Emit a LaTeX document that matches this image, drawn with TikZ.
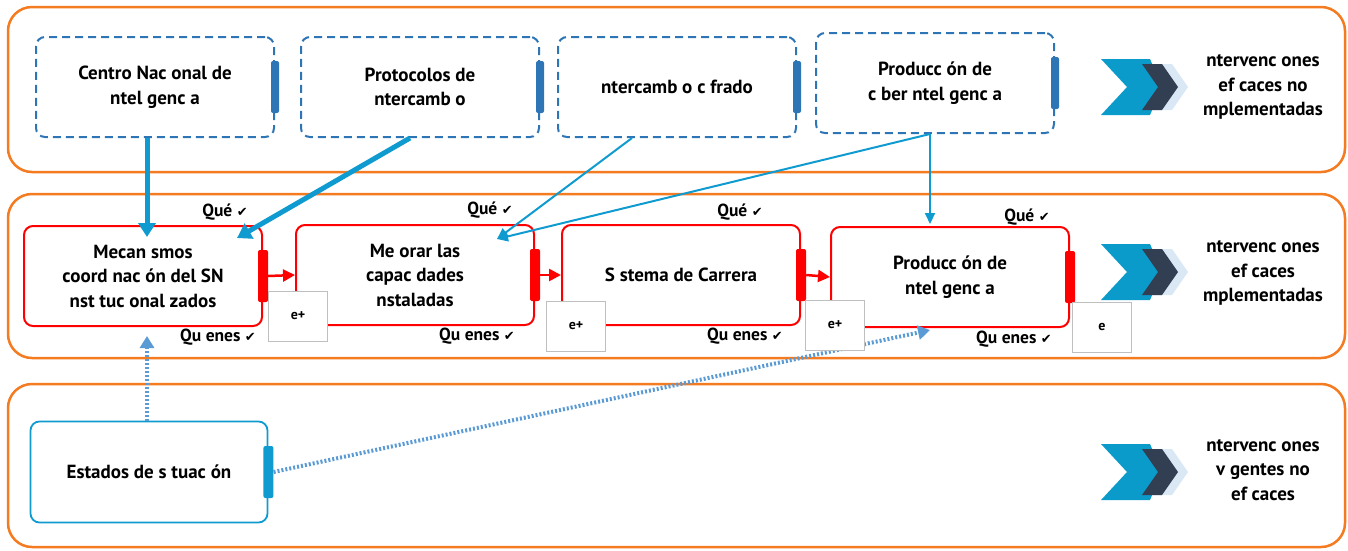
\documentclass[tikz,border=0pt]{standalone}
\usepackage{fontspec}
\setmainfont{PT Sans}
\newfontfamily\symf{DejaVu Sans}
\usetikzlibrary{arrows.meta,calc}
\definecolor{orng}{HTML}{F47B20}
\definecolor{dblue}{HTML}{2E75B6}
\definecolor{cyanl}{HTML}{0F9BD0}
\definecolor{dotblue}{HTML}{5B9BD5}
\definecolor{chev}{HTML}{0A9BCB}
\definecolor{chevd}{HTML}{323F52}
\definecolor{chevl}{HTML}{DAE7F4}
\definecolor{ebord}{HTML}{BFBFBF}
\begin{document}
\begin{tikzpicture}[x=1pt,y=-1pt,
 band/.style={draw=orng,line width=2.5pt,rounded corners=24pt},
 txt/.style={align=center,font=\bfseries\fontsize{19}{24.5}\selectfont},
 dbox/.style={txt,draw=dblue,line width=2pt,dash pattern=on 8pt off 5pt,rounded corners=9pt,minimum width=238pt,minimum height=100pt},
 dbar/.style={fill=dblue,draw=none,minimum width=8pt,minimum height=52pt,inner sep=0pt,rounded corners=2pt},
 rbox/.style={txt,draw=red,line width=2pt,rounded corners=9pt,minimum width=238pt,minimum height=100pt},
 rbar/.style={fill=red,draw=none,minimum width=10pt,minimum height=52pt,inner sep=0pt,rounded corners=2pt},
 sbox/.style={txt,draw=cyanl,line width=1.8pt,rounded corners=9pt,minimum width=237pt,minimum height=101pt},
 sbar/.style={fill=cyanl,draw=none,minimum width=10pt,minimum height=52pt,inner sep=0pt,rounded corners=2pt},
 ebox/.style={draw=ebord,fill=white,line width=0.8pt,minimum width=59pt,minimum height=50pt,inner sep=0pt,font=\bfseries\fontsize{14}{16}\selectfont},
 lbl/.style={inner sep=0pt,font=\bfseries\fontsize{17.5}{20}\selectfont},
 side/.style={align=center,inner sep=0pt,font=\bfseries\fontsize{19}{24.5}\selectfont},
 thick arrow/.style={draw=cyanl,line width=5pt,-{Triangle[length=14pt,width=17pt]}},
 thin arrow/.style={draw=cyanl,line width=2pt,-{Triangle[length=11pt,width=10pt]}},
 red arrow/.style={draw=red,line width=2.5pt,-{Triangle[length=12pt,width=12pt]}},
 dot arrow/.style={draw=dotblue,line width=4pt,dash pattern=on 2pt off 2pt,-{Triangle[length=12pt,width=14pt]}},
]
\useasboundingbox (0,0) rectangle (1348,550);
\newcommand{\chk}{{\symf\fontsize{13}{14}\selectfont ✔}}
\newcommand{\chevron}[1]{%
 \fill[chevl] (1152,#1-23) -- (1172,#1-23) -- (1188,#1) -- (1172,#1+23) -- (1152,#1+23) -- (1168,#1) -- cycle;
 \fill[chev] (1101,#1-28) -- (1150,#1-28) -- (1162,#1) -- (1150,#1+28) -- (1101,#1+28) -- (1127,#1) -- cycle;
 \fill[chevd] (1142,#1-23) -- (1162,#1-23) -- (1178,#1) -- (1162,#1+23) -- (1142,#1+23) -- (1158,#1) -- cycle;}

% bands
\draw[band] (8,7) rectangle (1345,172);
\draw[band] (8,194) rectangle (1345,358);
\draw[band] (8,384) rectangle (1345,547);

% top row
\node[dbox] (b1) at (155,87) {Centro Nac onal de\\ ntel genc a};
\node[dbox] (b2) at (420,87) {Protocolos de\\ ntercamb o};
\node[dbox] (b3) at (677,87) {ntercamb o c frado};
\node[dbox] (b4) at (935,83) {Producc ón de\\ c ber ntel genc a};
\node[dbar] (b1bar) at (b1.east) {};
\node[dbar] (b2bar) at (b2.east) {};
\node[dbar] (b3bar) at (b3.east) {};
\node[dbar] (b4bar) at (b4.east) {};
\chevron{87}
\node[side] (t1) at (1263,87) {ntervenc ones\\ ef caces no\\ mplementadas};

% middle row
\node[rbox] (r1) at (143,276) {Mecan smos\\ coord nac ón del SN\\ nst tuc onal zados};
\node[rbox] (r2) at (415,275) {Me orar las\\ capac dades\\ nstaladas};
\node[rbox] (r3) at (681,275) {S stema de Carrera};
\node[rbox] (r4) at (950,277) {Producc ón de\\ ntel genc a};
\node[rbar] (r1bar) at (r1.east) {};
\node[rbar] (r2bar) at (r2.east) {};
\node[rbar] (r3bar) at (r3.east) {};
\node[rbar] (r4bar) at (r4.east) {};
\draw[red arrow] (r1bar.east) -- (r2.west);
\draw[red arrow] (r2bar.east) -- (r3.west);
\draw[red arrow] (r3bar.east) -- (r4.west);
\node[lbl] (q1) at (225,212) {Qué \chk};
\node[lbl] (q2) at (490,210) {Qué \chk};
\node[lbl] (q3) at (740,212) {Qué \chk};
\node[lbl] (q4) at (1027,217) {Qué \chk};
\node[lbl] (w1) at (218,337) {Qu enes \chk};
\node[lbl] (w2) at (477,336) {Qu enes \chk};
\node[lbl] (w3) at (745,336) {Qu enes \chk};
\node[lbl] (w4) at (1014,339) {Qu enes \chk};
\chevron{272}
\node[side] (t2) at (1263,273) {ntervenc ones\\ ef caces\\ mplementadas};

% bottom row
\node[sbox] (s1) at (149,472) {Estados de s tuac ón};
\node[sbar] (s1bar) at (s1.east) {};
\chevron{472}
\node[side] (t3) at (1263,470) {ntervenc ones\\ v gentes no\\ ef caces};

% connectors
\coordinate (a1) at (147,237);
\coordinate (a2) at (237,238);
\coordinate (a3) at (497,239);
\coordinate (a4) at (930,224);
\coordinate (d1) at (147,336);
\coordinate (d2) at (930,330);
\draw[thick arrow] (b1.south -| a1) -- (a1);
\draw[thick arrow] ($(b2.south)+(-10,0)$) -- (a2);
\draw[thin arrow] ($(b3.south)+(-45,0)$) -- (a3);
\draw[thin arrow] ($(b4.south)+(-5,0)$) -- (a3);
\draw[thin arrow] ($(b4.south)+(-5,0)$) -- (a4);
\draw[dot arrow] (s1.north -| d1) -- (d1);
\draw[dot arrow] (s1bar.east) -- (d2);

% e boxes
\node[ebox] (e1) at (298,316) {e+};
\node[ebox] (e2) at (576,326) {e+};
\node[ebox] (e3) at (835,325) {e+};
\node[ebox] (e4) at (1102,327) {e};
\end{tikzpicture}
\end{document}
